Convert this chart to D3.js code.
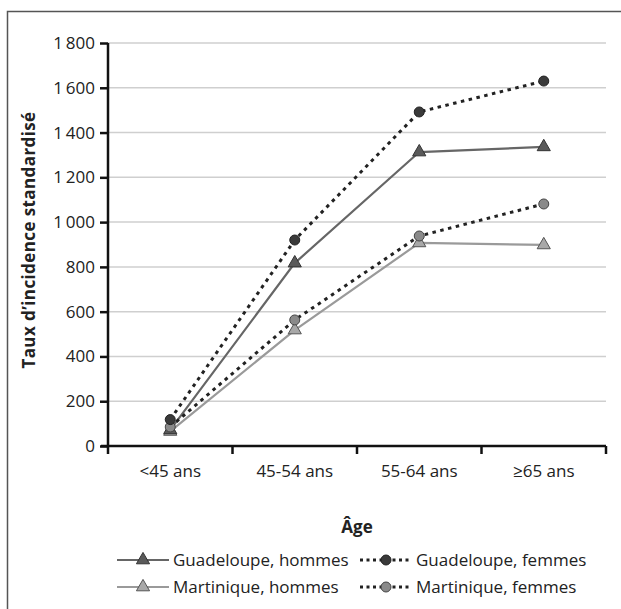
<!DOCTYPE html>
<html><head><meta charset="utf-8">
<script src="https://cdn.jsdelivr.net/npm/d3@7"></script>
<style>body{margin:0;background:#fff}svg{display:block;font-family:"Open Sans",sans-serif}</style>
</head><body><svg id="c" width="621" height="609"></svg>
<script>
const categories = ["<45 ans", "45-54 ans", "55-64 ans", "\u226565 ans"];
const guadeloupeHommes = [72, 817, 1313, 1336];
const guadeloupeFemmes = [118, 920, 1492, 1630];
const martiniqueHommes = [65, 518, 907, 898];
const martiniqueFemmes = [85, 563, 938, 1081];
const yTicks = [0, 200, 400, 600, 800, 1000, 1200, 1400, 1600, 1800];
const seriesNames = ["Guadeloupe, hommes", "Guadeloupe, femmes", "Martinique, hommes", "Martinique, femmes"];

const series = [
  {name: seriesNames[0], values: guadeloupeHommes, line: "#666", dash: null, marker: "tri", fill: "#5a5a5a", mstroke: "#333"},
  {name: seriesNames[1], values: guadeloupeFemmes, line: "#222", dash: "3.5,4.5", marker: "circ", fill: "#3a3a3a", mstroke: "#222"},
  {name: seriesNames[2], values: martiniqueHommes, line: "#9a9a9a", dash: null, marker: "tri", fill: "#a8a8a8", mstroke: "#555"},
  {name: seriesNames[3], values: martiniqueFemmes, line: "#222", dash: "3.5,4.5", marker: "circ", fill: "#8a8a8a", mstroke: "#444"}
];

const svg = d3.select("#c");
svg.append("rect").attr("x", 7.5).attr("y", 11.5).attr("width", 700).attr("height", 700)
  .attr("fill", "none").attr("stroke", "#555").attr("stroke-width", 1.5);

const x = d3.scaleBand().domain(categories).range([108, 606]);
const y = d3.scaleLinear().domain([0, 1800]).range([446, 43]);

// gridlines
svg.append("g").selectAll("line").data(yTicks.filter(d => d > 0)).join("line")
  .attr("x1", 108).attr("x2", 606).attr("y1", d => y(d)).attr("y2", d => y(d))
  .attr("stroke", "#cfcfcf").attr("stroke-width", 1.5);

// y axis
const yAxis = d3.axisLeft(y).tickValues(yTicks).tickSize(8).tickPadding(5)
  .tickFormat(d => d >= 1000 ? d3.format(",")(d).replace(",", "\u2009") : d);
const gy = svg.append("g").attr("transform", "translate(108,0)").call(yAxis);
gy.select(".domain").attr("stroke", "#111").attr("stroke-width", 2.5).attr("d", `M0,${y(0)}V${y(1800)}`);
gy.selectAll(".tick line").attr("stroke", "#111").attr("stroke-width", 2.5);
gy.selectAll(".tick text").attr("font-size", 17).attr("fill", "#222").attr("font-family", "Open Sans");

// x axis
const gx = svg.append("g").attr("transform", `translate(0,${y(0)})`);
gx.append("line").attr("x1", 101).attr("x2", 606).attr("stroke", "#111").attr("stroke-width", 2.5);
const bounds = categories.map(c => x(c)).concat([x(categories[categories.length-1]) + x.bandwidth()]);
gx.selectAll("line.t").data(bounds).join("line").attr("class", "t")
  .attr("x1", d => d).attr("x2", d => d).attr("y1", 0).attr("y2", 8)
  .attr("stroke", "#111").attr("stroke-width", 2.5);
gx.selectAll("text").data(categories).join("text")
  .attr("x", d => x(d) + x.bandwidth() / 2).attr("y", 31)
  .attr("text-anchor", "middle").attr("font-size", 17).attr("fill", "#222").text(d => d);

// axis titles
svg.append("text").attr("transform", "translate(35,240) rotate(-90)")
  .attr("text-anchor", "middle").attr("font-size", 17).attr("letter-spacing", 0.4)
  .attr("font-weight", "bold").attr("fill", "#222")
  .text("Taux d\u2019incidence standardisé");
svg.append("text").attr("x", 357).attr("y", 533).attr("text-anchor", "middle")
  .attr("font-size", 17).attr("font-weight", "bold").attr("fill", "#222").text("Âge");

const cx = d => x(d) + x.bandwidth() / 2;
const lineGen = d3.line().x(d => cx(d.c)).y(d => y(d.v));
const triPath = d3.symbol().type(d3.symbolTriangle).size(75);

function marker(g, s, px, py) {
  if (s.marker === "tri") {
    g.append("path").attr("d", triPath()).attr("transform", `translate(${px},${py})`)
      .attr("fill", s.fill).attr("stroke", s.mstroke).attr("stroke-width", 1);
  } else {
    g.append("circle").attr("cx", px).attr("cy", py).attr("r", 5)
      .attr("fill", s.fill).attr("stroke", s.mstroke).attr("stroke-width", 1);
  }
}

const order = [2, 0, 3, 1];
order.forEach(i => {
  const s = series[i];
  const pts = categories.map((c, k) => ({c, v: s.values[k]}));
  const g = svg.append("g");
  g.append("path").attr("d", lineGen(pts)).attr("fill", "none")
    .attr("stroke", s.line).attr("stroke-width", s.dash ? 3 : 2.2)
    .attr("stroke-dasharray", s.dash);
  pts.forEach(p => marker(g, s, cx(p.c), y(p.v)));
});

// legend
const legPos = [[117, 560], [360, 560], [117, 587], [360, 587]];
series.forEach((s, i) => {
  const [lx, ly] = legPos[i];
  const g = svg.append("g");
  g.append("line").attr("x1", lx).attr("x2", lx + 52).attr("y1", ly).attr("y2", ly)
    .attr("stroke", s.line).attr("stroke-width", s.dash ? 3 : 2.2).attr("stroke-dasharray", s.dash ? "3,3.5" : null);
  marker(g, s, lx + 26, ly);
  g.append("text").attr("x", lx + 56).attr("y", ly + 6).attr("font-size", 17).attr("fill", "#222").text(s.name);
});
</script></body></html>
